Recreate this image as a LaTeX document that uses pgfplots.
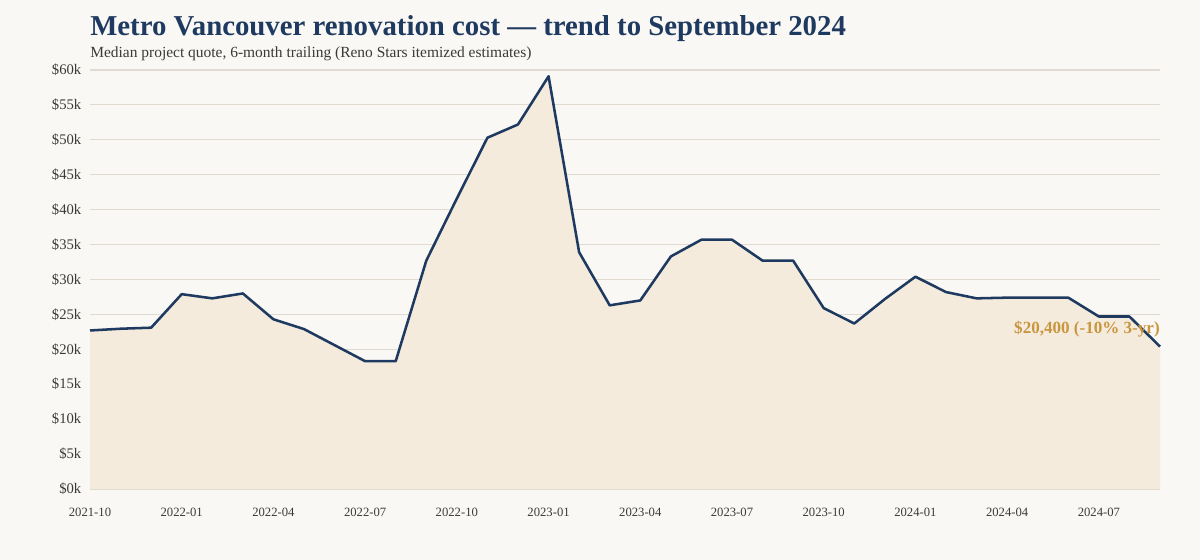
\documentclass[border=0pt]{standalone}
\usepackage{pgfplots}
\pgfplotsset{compat=1.18}
\usepackage{fontspec}
\setmainfont{Liberation Serif}
\definecolor{bgc}{HTML}{FAF8F4}
\definecolor{fillc}{HTML}{F4EBDD}
\definecolor{linec}{HTML}{1F3A60}
\definecolor{gridc}{HTML}{E0DAD1}
\definecolor{annc}{HTML}{C9963F}
\definecolor{subc}{HTML}{3A3A3A}
\pgfplotstableread{
x y
0 22700
1 22950
2 23100
3 27900
4 27300
5 28000
6 24300
7 22900
8 20600
9 18300
10 18300
11 32700
12 41600
13 50300
14 52200
15 59100
16 33900
17 26300
18 27000
19 33300
20 35700
21 35700
22 32700
23 32700
24 25900
25 23700
26 27200
27 30400
28 28200
29 27300
30 27400
31 27400
32 27400
33 24700
34 24700
35 20400
}\datatable
\begin{document}
\begin{tikzpicture}
\fill[bgc] (0,0) rectangle (900pt,420pt);
\node[anchor=base west, font=\bfseries\fontsize{21.6}{24}\selectfont, text=linec, inner sep=0pt] at (67.5pt,393pt) {Metro Vancouver renovation cost — trend to September 2024};
\node[anchor=base west, font=\fontsize{11.6}{13}\selectfont, text=subc, inner sep=0pt] at (67.5pt,376.5pt) {Median project quote, 6-month trailing (Reno Stars itemized estimates)};
\begin{axis}[
  at={(67.5pt,53.25pt)}, anchor=south west,
  scale only axis, width=802.5pt, height=314.25pt,
  xmin=0, xmax=35, ymin=0, ymax=60000,
  scaled y ticks=false, scaled x ticks=false,
  axis line style={draw=none},
  ymajorgrids, grid style={gridc, line width=0.8pt},
  xtick={0,3,...,33},
  xticklabels={2021-10,2022-01,2022-04,2022-07,2022-10,2023-01,2023-04,2023-07,2023-10,2024-01,2024-04,2024-07},
  ytick={0,5000,...,60000},
  yticklabels={\$0k,\$5k,\$10k,\$15k,\$20k,\$25k,\$30k,\$35k,\$40k,\$45k,\$50k,\$55k,\$60k},
  major tick length=0pt,
  tick style={draw=none},
  xticklabel style={font=\fontsize{9.5}{11}\selectfont, text=subc, yshift=-11pt},
  yticklabel style={font=\fontsize{11}{13}\selectfont, text=subc, xshift=-3pt},
  clip=false,
]
\addplot[fill=fillc, draw=none] table[x=x,y=y] {\datatable} \closedcycle;
\addplot[linec, line width=1.9pt, line join=round] table[x=x,y=y] {\datatable};
\node[anchor=east, text=annc, font=\bfseries\fontsize{12.8}{14}\selectfont, inner sep=0pt] at (axis cs:35,20400) [yshift=13pt] {\$20,400 (-10\% 3-yr)};
\end{axis}
\end{tikzpicture}
\end{document}
